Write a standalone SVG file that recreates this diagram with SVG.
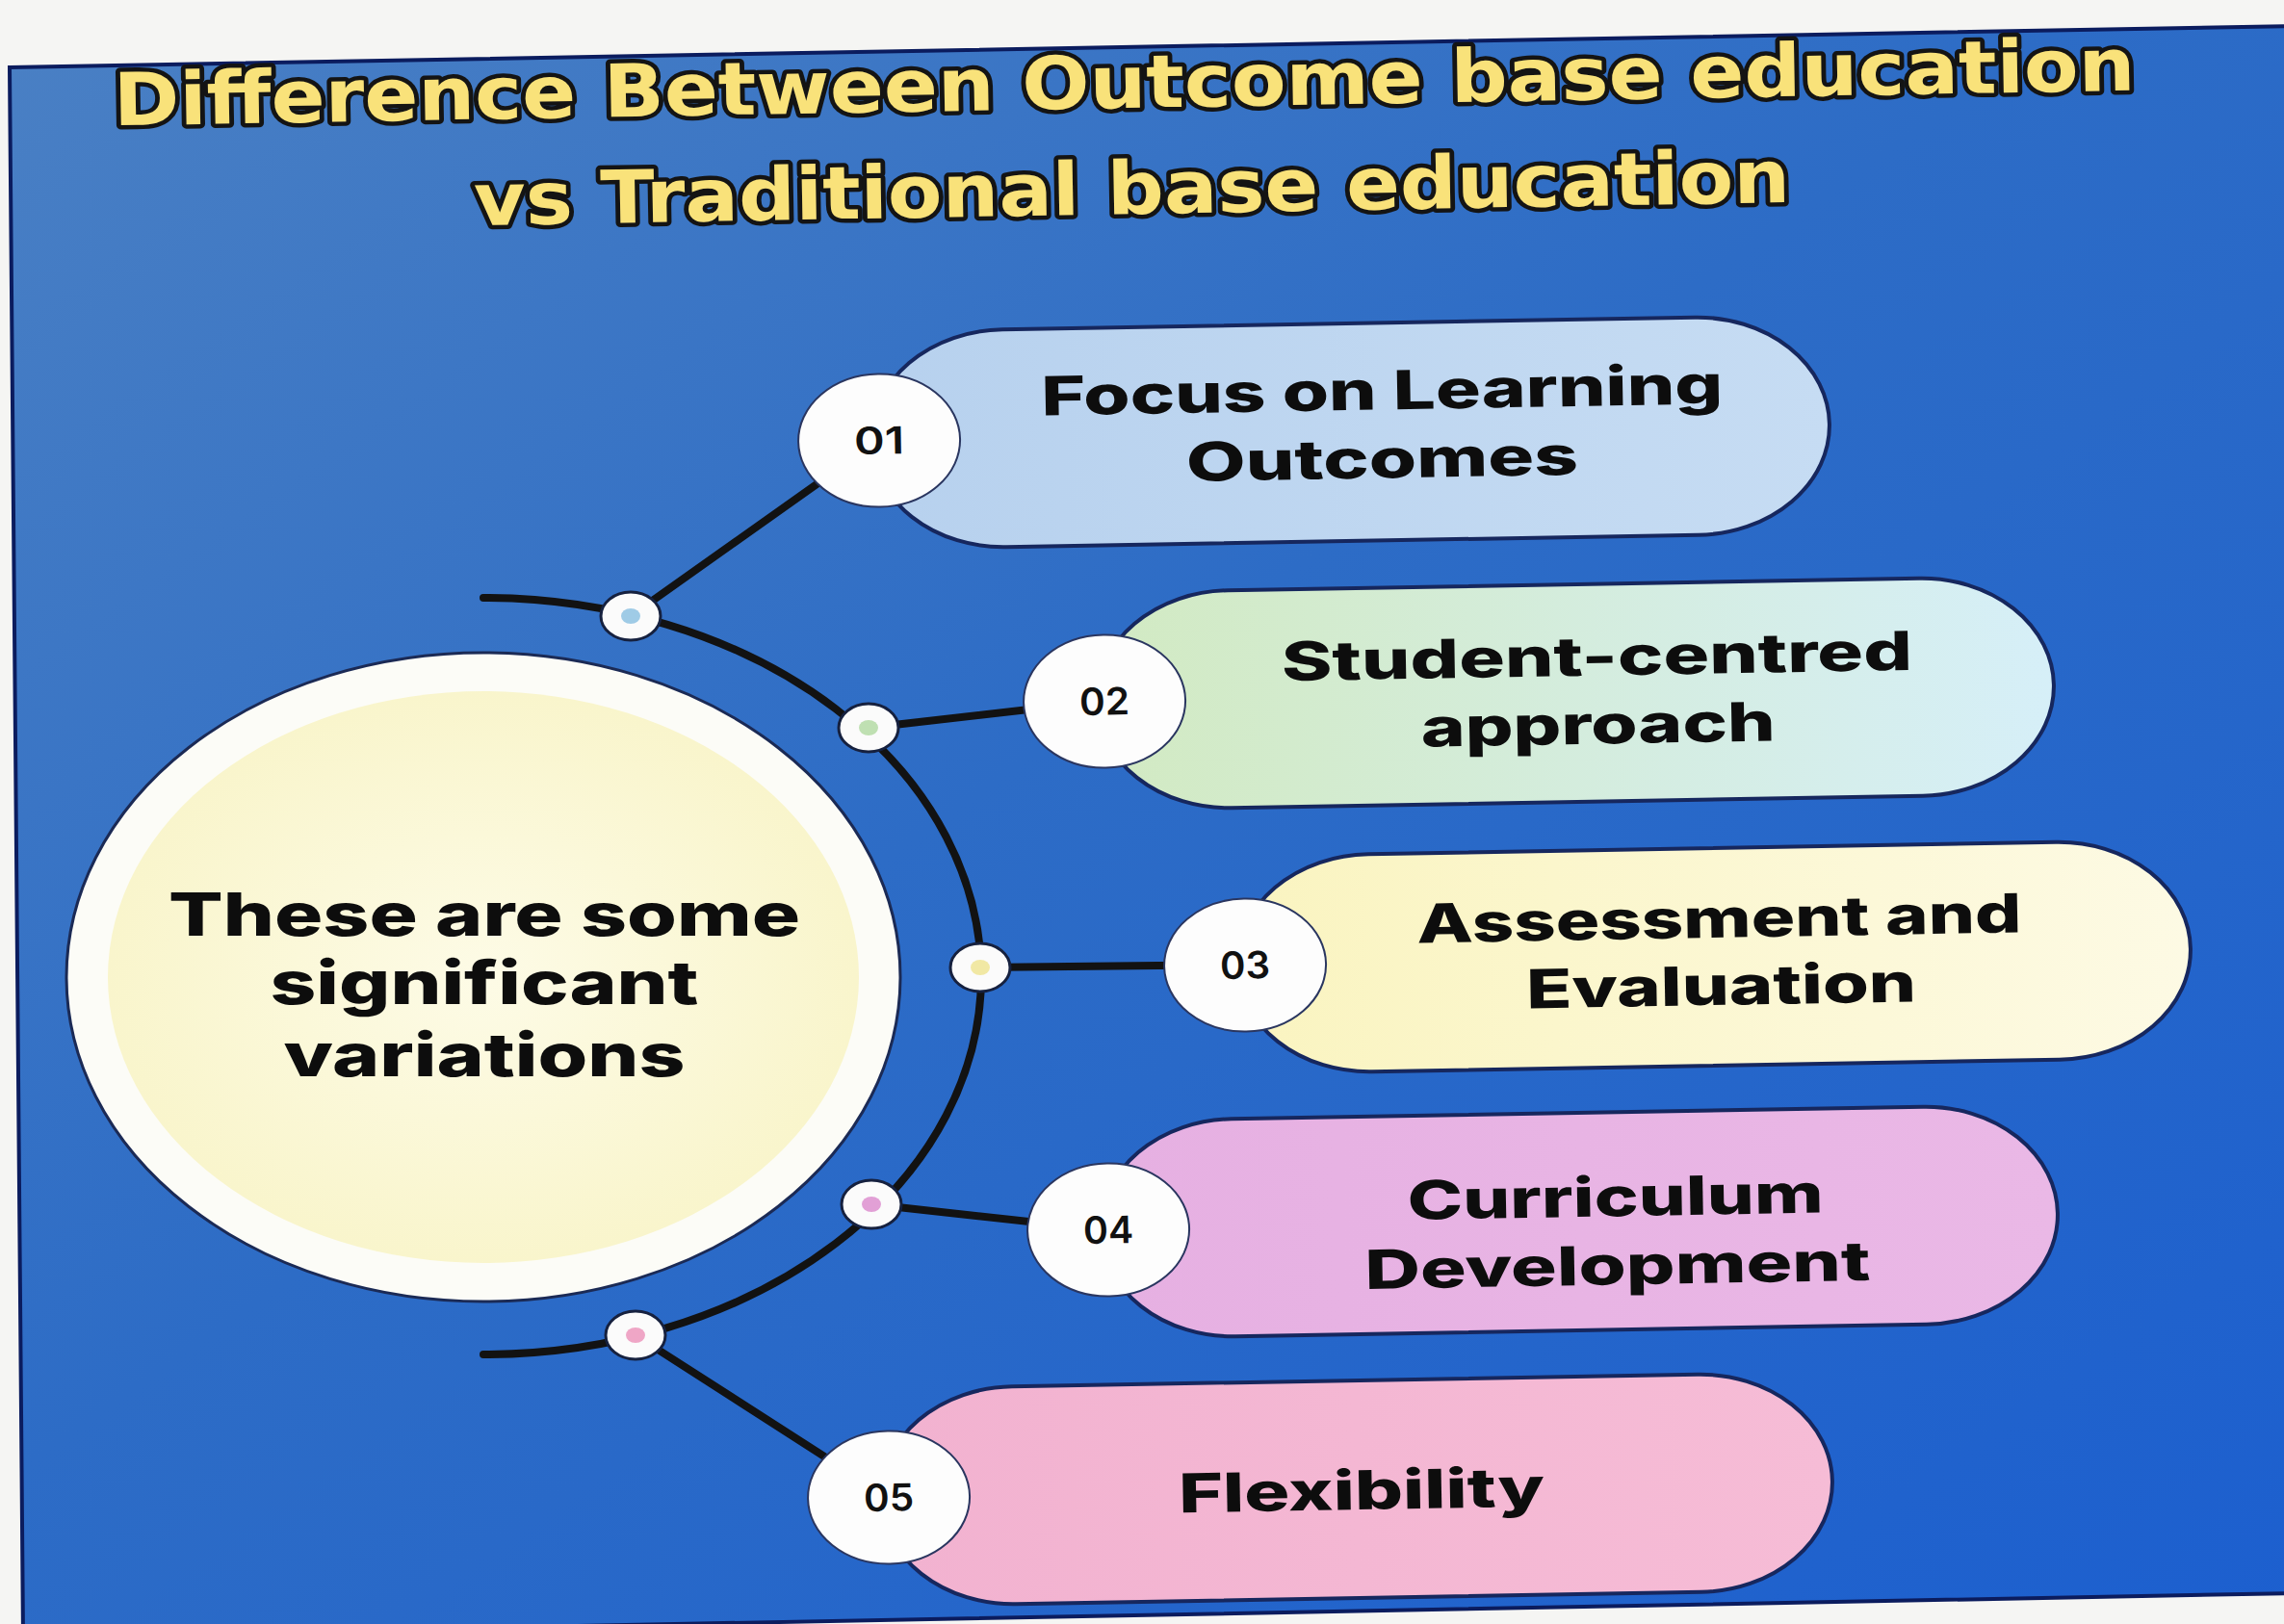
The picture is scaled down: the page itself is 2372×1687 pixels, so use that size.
<svg xmlns="http://www.w3.org/2000/svg" width="2372" height="1687" viewBox="0 0 2372 1687">
  <defs>
    <linearGradient id="bg" x1="0" y1="0" x2="1" y2="1">
      <stop offset="0" stop-color="#4a80c4"/>
      <stop offset="0.45" stop-color="#2d6cc6"/>
      <stop offset="1" stop-color="#1c5fcf"/>
    </linearGradient>
    <radialGradient id="core" cx="0.5" cy="0.5" r="0.5">
      <stop offset="0" stop-color="#fdfbe6"/>
      <stop offset="1" stop-color="#f9f5cc"/>
    </radialGradient>
    <linearGradient id="g1" x1="0" y1="0" x2="1" y2="0">
      <stop offset="0" stop-color="#b7d1ee"/>
      <stop offset="1" stop-color="#c6dcf3"/>
    </linearGradient>
    <linearGradient id="g2" x1="0" y1="0" x2="1" y2="0">
      <stop offset="0" stop-color="#d2eac2"/>
      <stop offset="1" stop-color="#d6eff8"/>
    </linearGradient>
    <linearGradient id="g3" x1="0" y1="0" x2="1" y2="0">
      <stop offset="0" stop-color="#faf4c0"/>
      <stop offset="1" stop-color="#fdfae4"/>
    </linearGradient>
    <linearGradient id="g4" x1="0" y1="0" x2="1" y2="0">
      <stop offset="0" stop-color="#e6b0e2"/>
      <stop offset="1" stop-color="#eab8e6"/>
    </linearGradient>
    <linearGradient id="g5" x1="0" y1="0" x2="1" y2="0">
      <stop offset="0" stop-color="#f2b2d0"/>
      <stop offset="1" stop-color="#f6bcd6"/>
    </linearGradient>
  </defs>
  <style>
    .title { font-family: "DejaVu Sans", "Liberation Sans", sans-serif; font-weight: bold; font-size: 76px; fill: #f9e27a; stroke: #141414; stroke-width: 9px; paint-order: stroke; stroke-linejoin: round; text-anchor: middle; }
    .pill { stroke: #16275e; stroke-width: 4; }
    .num { fill: #fdfdfd; stroke: #2a3660; stroke-width: 2; }
    .numt { font-family: "Inter", "Liberation Sans", sans-serif; font-weight: 600; font-size: 39px; fill: #111; text-anchor: middle; }
    .lbl { font-family: "Inter", "Liberation Sans", sans-serif; font-weight: 800; font-size: 56px; fill: #0d0d0d; text-anchor: middle; }
    .core { font-family: "Inter", "Liberation Sans", sans-serif; font-weight: 800; font-size: 62px; fill: #0d0d0d; text-anchor: middle; }
    .conn { fill: none; stroke: #121212; stroke-width: 8; stroke-linecap: round; }
    .dot { fill: #fbfbfb; stroke: #16213f; stroke-width: 3; }
  </style>

  <rect x="0" y="0" width="2372" height="1687" fill="#f5f5f3"/>
  <polygon points="10,70 2380,27 2380,1655 24,1700" fill="url(#bg)" stroke="#0b1c5e" stroke-width="4"/>

  <g id="title">
    <text class="title" x="1168" y="112" textLength="2100" lengthAdjust="spacingAndGlyphs" transform="rotate(-1 1168 112)">Difference Between Outcome base education</text>
    <text class="title" x="1176" y="222" textLength="1367" lengthAdjust="spacingAndGlyphs" transform="rotate(-1 1176 222)">vs Traditional base education</text>
  </g>

  <g id="connectors">
    <path class="conn" d="M 502 621 A 517 393 0 0 1 502 1407"/>
    <line class="conn" x1="655" y1="640" x2="913" y2="457"/>
    <line class="conn" x1="902" y1="756" x2="1147" y2="728"/>
    <line class="conn" x1="1018" y1="1005" x2="1293" y2="1002"/>
    <line class="conn" x1="905" y1="1251" x2="1151" y2="1278"/>
    <line class="conn" x1="660" y1="1387" x2="923" y2="1556"/>
  </g>

  <g id="hub">
    <ellipse cx="502" cy="1015" rx="433" ry="337" fill="#fcfcf7" stroke="#1b2a55" stroke-width="3"/>
    <ellipse cx="502" cy="1015" rx="390" ry="297" fill="url(#core)"/>
    <text class="core" x="503" y="972" textLength="656" lengthAdjust="spacingAndGlyphs">These are some</text>
    <text class="core" x="503" y="1043" textLength="445" lengthAdjust="spacingAndGlyphs">significant</text>
    <text class="core" x="503" y="1118" textLength="417" lengthAdjust="spacingAndGlyphs">variations</text>
  </g>

  <g id="joint1"><ellipse class="dot" cx="655" cy="640" rx="31" ry="25"/><ellipse cx="655" cy="640" rx="10" ry="8" fill="#9fcbe6"/></g>
  <g id="joint2"><ellipse class="dot" cx="902" cy="756" rx="31" ry="25"/><ellipse cx="902" cy="756" rx="10" ry="8" fill="#bfe0b2"/></g>
  <g id="joint3"><ellipse class="dot" cx="1018" cy="1005" rx="31" ry="25"/><ellipse cx="1018" cy="1005" rx="10" ry="8" fill="#f1e8a4"/></g>
  <g id="joint4"><ellipse class="dot" cx="905" cy="1251" rx="31" ry="25"/><ellipse cx="905" cy="1251" rx="10" ry="8" fill="#e2a0d6"/></g>
  <g id="joint5"><ellipse class="dot" cx="660" cy="1387" rx="31" ry="25"/><ellipse cx="660" cy="1387" rx="10" ry="8" fill="#efa6c6"/></g>

  <g id="item1" transform="rotate(-1 1402 449)">
    <rect class="pill" x="905" y="336" width="995" height="226" rx="138" ry="113" fill="url(#g1)"/>
    <ellipse class="num" cx="913" cy="449" rx="84" ry="69"/>
    <text class="numt" x="913" y="463" textLength="52" lengthAdjust="spacingAndGlyphs">01</text>
    <text class="lbl" x="1436" y="426" textLength="708" lengthAdjust="spacingAndGlyphs">Focus on Learning</text>
    <text class="lbl" x="1435" y="497" textLength="407" lengthAdjust="spacingAndGlyphs">Outcomes</text>
  </g>

  <g id="item2" transform="rotate(-1 1636 720)">
    <rect class="pill" x="1139" y="607" width="994" height="226" rx="138" ry="113" fill="url(#g2)"/>
    <ellipse class="num" cx="1147" cy="720" rx="84" ry="69"/>
    <text class="numt" x="1147" y="734" textLength="52" lengthAdjust="spacingAndGlyphs">02</text>
    <text class="lbl" x="1659" y="702" textLength="655" lengthAdjust="spacingAndGlyphs">Student-centred</text>
    <text class="lbl" x="1659" y="773" textLength="368" lengthAdjust="spacingAndGlyphs">approach</text>
  </g>

  <g id="item3" transform="rotate(-1 1780 994)">
    <rect class="pill" x="1285" y="881" width="990" height="226" rx="138" ry="113" fill="url(#g3)"/>
    <ellipse class="num" cx="1293" cy="994" rx="84" ry="69"/>
    <text class="numt" x="1293" y="1008" textLength="52" lengthAdjust="spacingAndGlyphs">03</text>
    <text class="lbl" x="1786" y="974" textLength="628" lengthAdjust="spacingAndGlyphs">Assessment and</text>
    <text class="lbl" x="1787" y="1044" textLength="405" lengthAdjust="spacingAndGlyphs">Evaluation</text>
  </g>

  <g id="item4" transform="rotate(-1 1640 1269)">
    <rect class="pill" x="1143" y="1156" width="994" height="226" rx="138" ry="113" fill="url(#g4)"/>
    <ellipse class="num" cx="1151" cy="1269" rx="84" ry="69"/>
    <text class="numt" x="1151" y="1283" textLength="52" lengthAdjust="spacingAndGlyphs">04</text>
    <text class="lbl" x="1678" y="1264" textLength="432" lengthAdjust="spacingAndGlyphs">Curriculum</text>
    <text class="lbl" x="1679" y="1335" textLength="525" lengthAdjust="spacingAndGlyphs">Development</text>
  </g>

  <g id="item5" transform="rotate(-1 1409 1547)">
    <rect class="pill" x="915" y="1434" width="988" height="226" rx="138" ry="113" fill="url(#g5)"/>
    <ellipse class="num" cx="923" cy="1547" rx="84" ry="69"/>
    <text class="numt" x="923" y="1561" textLength="52" lengthAdjust="spacingAndGlyphs">05</text>
    <text class="lbl" x="1414" y="1568" textLength="380" lengthAdjust="spacingAndGlyphs">Flexibility</text>
  </g>
</svg>
